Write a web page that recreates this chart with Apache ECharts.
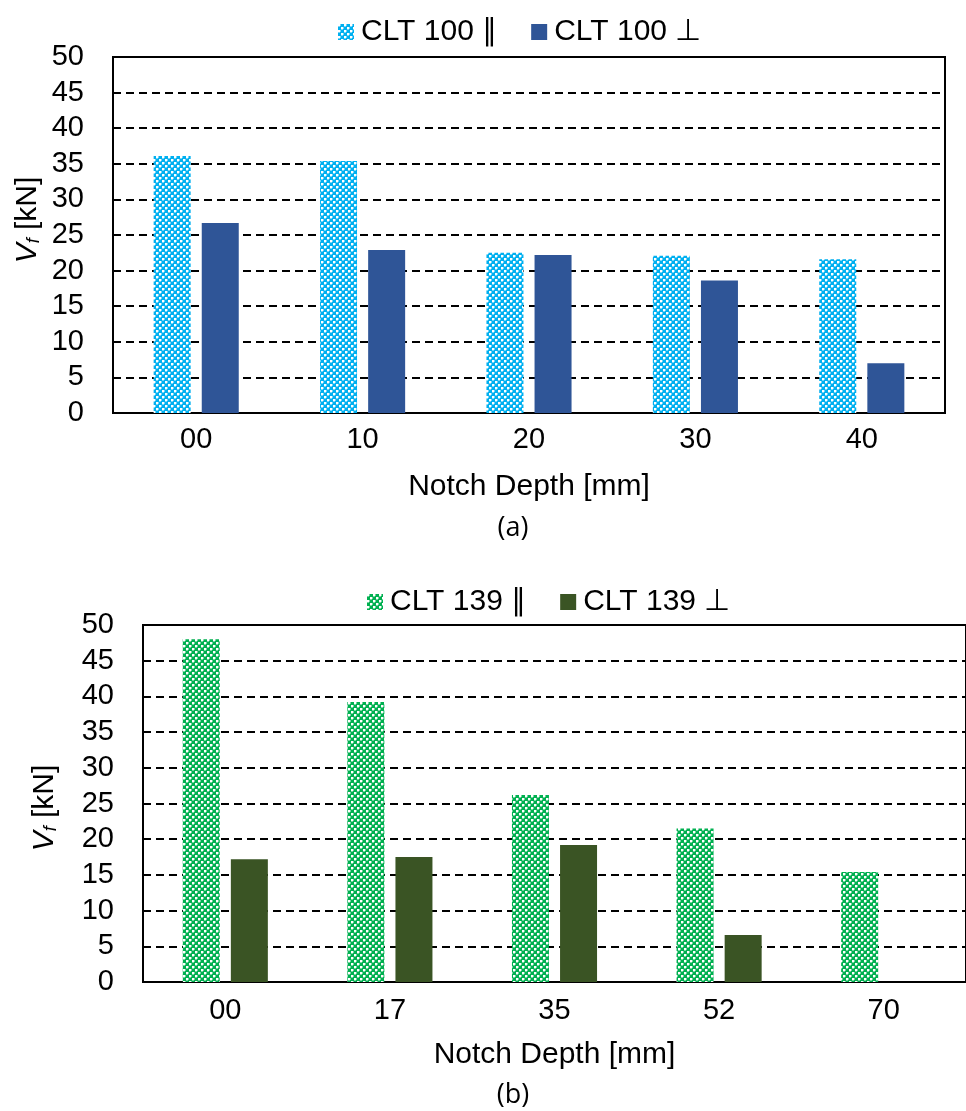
<!DOCTYPE html>
<html>
<head>
<meta charset="utf-8">
<script src="https://cdn.jsdelivr.net/npm/echarts@6/dist/echarts.min.js"></script>
<style>html,body{margin:0;padding:0;background:#fff}#c{width:966px;height:1111px}</style>
</head>
<body>
<div id="c"></div>
<script>
// ---- data ----
const catsA = ['00', '10', '20', '30', '40'];
const clt100Par = [36.1, 35.4, 22.5, 22.1, 21.6];
const clt100Perp = [26.7, 22.9, 22.2, 18.6, 7.0];
const catsB = ['00', '17', '35', '52', '70'];
const clt139Par = [48.0, 39.2, 26.2, 21.5, 15.4];
const clt139Perp = [17.2, 17.5, 19.2, 6.6, 0];
const namesA = ['CLT 100 \u2225', 'CLT 100 \u22A5'];
const namesB = ['CLT 139 \u2225', 'CLT 139 \u22A5'];

function makePattern(color) {
  const c = document.createElement('canvas');
  c.width = 6; c.height = 6;
  const g = c.getContext('2d');
  g.fillStyle = color; g.fillRect(0, 0, 6, 6);
  g.fillStyle = '#ffffff';
  g.fillRect(0, 0, 2, 2);
  g.fillRect(3, 3, 2, 2);
  g.globalAlpha = 0.45;
  g.fillRect(2, 0, 1, 2);
  g.fillRect(0, 2, 2, 1);
  g.fillRect(5, 3, 1, 2);
  g.fillRect(3, 5, 2, 1);
  return { image: c, repeat: 'repeat' };
}
const patBlue = makePattern('#00B0F0');
const patGreen = makePattern('#00B050');

const FONT = 'Liberation Sans';
const chart = echarts.init(document.getElementById('c'), null, { renderer: 'canvas' });

function xAx(gi, cats, margin, gap) {
  return {
    type: 'category', gridIndex: gi, data: cats,
    axisLine: { show: true, lineStyle: { color: '#000', width: 2 } },
    axisTick: { show: false },
    axisLabel: { color: '#000', fontFamily: FONT, fontSize: 29, margin: margin },
    name: 'Notch Depth [mm]', nameLocation: 'middle', nameGap: gap,
    nameTextStyle: { color: '#000', fontFamily: FONT, fontSize: 30 }
  };
}
function yAx(gi) {
  return {
    type: 'value', gridIndex: gi, min: 0, max: 50, interval: 5,
    axisLine: { show: true, lineStyle: { color: '#000', width: 2 } },
    axisTick: { show: false },
    axisLabel: { color: '#000', fontFamily: FONT, fontSize: 29, margin: 29 },
    splitLine: { show: true, lineStyle: { color: '#000', width: 2, type: [8, 5] } }
  };
}
function yName(x, y) {
  return { type: 'text', x: x, y: y, rotation: Math.PI / 2,
    style: { text: '{v|V}{f|f}{t| [kN]}', align: 'center', verticalAlign: 'middle', fill: '#000',
      rich: { v: { fontFamily: FONT, fontSize: 30, fontStyle: 'italic', fill: '#000' },
              f: { fontFamily: FONT, fontSize: 18, fontStyle: 'italic', fill: '#000', padding: [12, 0, 0, 0] },
              t: { fontFamily: FONT, fontSize: 30, fill: '#000' } } } };
}
const legendText = { color: '#000', fontFamily: FONT, fontSize: 30, padding: [0, 0, 0, 2] };

const option = {
  animation: false,
  backgroundColor: '#fff',
  textStyle: { fontFamily: FONT },
  grid: [
    { left: 113, top: 57, right: 21, height: 356, show: true, borderColor: '#000', borderWidth: 2, backgroundColor: 'transparent' },
    { left: 143, top: 625, right: -5, height: 357, show: true, borderColor: '#000', borderWidth: 2, backgroundColor: 'transparent' }
  ],
  legend: [
    { data: namesA, left: 333, top: 12, itemWidth: 16, itemHeight: 16, itemGap: 34, icon: 'rect', textStyle: legendText },
    { data: namesB, left: 362, top: 582, itemWidth: 16, itemHeight: 16, itemGap: 34, icon: 'rect', textStyle: legendText }
  ],
  xAxis: [xAx(0, catsA, 12, 59), xAx(1, catsB, 14, 58)],
  yAxis: [yAx(0), yAx(1)],
  series: [
    { name: namesA[0], type: 'bar', xAxisIndex: 0, yAxisIndex: 0, data: clt100Par, barWidth: 37, barGap: '30%', itemStyle: { color: patBlue } },
    { name: namesA[1], type: 'bar', xAxisIndex: 0, yAxisIndex: 0, data: clt100Perp, barWidth: 37, barGap: '30%', itemStyle: { color: '#2F5597' } },
    { name: namesB[0], type: 'bar', xAxisIndex: 1, yAxisIndex: 1, data: clt139Par, barWidth: 37, barGap: '30%', itemStyle: { color: patGreen } },
    { name: namesB[1], type: 'bar', xAxisIndex: 1, yAxisIndex: 1, data: clt139Perp, barWidth: 37, barGap: '30%', itemStyle: { color: '#3A5424' } }
  ],
  graphic: [
    yName(28, 220),
    yName(45, 808),
    { type: 'text', x: 513, y: 528, style: { text: '(a)', align: 'center', verticalAlign: 'middle', fill: '#000', fontFamily: 'Open Sans', fontSize: 27 } },
    { type: 'text', x: 513, y: 1095, style: { text: '(b)', align: 'center', verticalAlign: 'middle', fill: '#000', fontFamily: 'Open Sans', fontSize: 27 } }
  ]
};
chart.setOption(option);
</script>
</body>
</html>
